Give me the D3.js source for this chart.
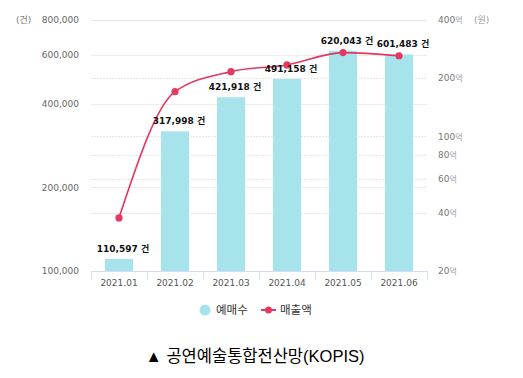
<!DOCTYPE html>
<html><head><meta charset="utf-8">
<script src="https://cdn.jsdelivr.net/npm/d3@7"></script>
<style>
body{margin:0;background:#fff;}
svg{display:block;font-family:"DejaVu Sans","Noto Sans CJK KR",sans-serif;}
</style></head>
<body><svg id="c" width="523" height="378"></svg>
<script>
const categories = ["2021.01","2021.02","2021.03","2021.04","2021.05","2021.06"];
const tickets = [110597, 317998, 421918, 491158, 620043, 601483];
const sales = [37.7, 170, 216, 234, 271, 261]; // 억원
const leftTicks = [100000, 200000, 400000, 600000, 800000];
const rightTicks = [20, 40, 60, 80, 100, 200, 400];
const seriesNames = ["예매수", "매출액"];
const title = "▲ 공연예술통합전산망(KOPIS)";

const barColor = "#a6e3eb", lineColor = "#e8375e";
const svg = d3.select("#c");
const x0 = 91, x1 = 427, yTop = 20, yBot = 271;
const x = d3.scaleBand().domain(categories).range([x0, x1]).paddingInner(0.5).paddingOuter(0.25);
const xb = d3.scaleBand().domain(categories).range([x0, x1]);
const yL = d3.scaleLog().domain([100000, 800000]).range([yBot, yTop]);
const yR = d3.scaleLog().domain([20, 400]).range([yBot, yTop]);

// grid
svg.append("g").selectAll("line").data(leftTicks.slice(1)).join("line")
  .attr("x1", x0).attr("x2", x1).attr("y1", d => Math.round(yL(d)) + 0.5).attr("y2", d => Math.round(yL(d)) + 0.5)
  .attr("stroke", "#ececec");
svg.append("g").selectAll("line").data(rightTicks.slice(1)).join("line")
  .attr("x1", x0).attr("x2", x1).attr("y1", d => Math.round(yR(d)) + 0.5).attr("y2", d => Math.round(yR(d)) + 0.5)
  .attr("stroke", "#e6e6e6").attr("stroke-dasharray", "2,1");

// bars
svg.append("g").selectAll("rect").data(tickets).join("rect")
  .attr("x", (d, i) => x(categories[i])).attr("width", x.bandwidth())
  .attr("y", d => yL(d)).attr("height", d => yBot - yL(d)).attr("fill", barColor);

// x axis
const xa = svg.append("g").attr("transform", `translate(0,${yBot})`)
  .call(d3.axisBottom(xb).tickSize(0).tickPadding(9));
xa.select(".domain").attr("stroke", "#d6dcef");
xa.selectAll("text").attr("fill", "#555").attr("font-size", 9).attr("font-family", "DejaVu Sans");
svg.append("g").selectAll("line").data(d3.range(categories.length + 1)).join("line")
  .attr("x1", i => Math.round(x0 + i * xb.step()) + 0.5).attr("x2", i => Math.round(x0 + i * xb.step()) + 0.5)
  .attr("y1", yBot).attr("y2", yBot + 8).attr("stroke", "#d6dcef");

// left axis
const la = svg.append("g").attr("transform", `translate(${x0 - 12},0)`)
  .call(d3.axisLeft(yL).tickValues(leftTicks).tickSize(0).tickPadding(0).tickFormat(d3.format(",")));
la.select(".domain").remove();
la.selectAll("text").attr("fill", "#666").attr("font-size", 9).attr("font-family", "DejaVu Sans");
svg.append("text").attr("x", 16).attr("y", yTop + 3).attr("font-size", 9).attr("fill", "#777").text("(건)");

// right axis
const ra = svg.append("g").attr("transform", `translate(${x1 + 11},0)`)
  .call(d3.axisRight(yR).tickValues(rightTicks).tickSize(0).tickPadding(0).tickFormat(d => ""));
ra.select(".domain").remove();
ra.selectAll(".tick text").each(function(d) {
  const t = d3.select(this).attr("fill", "#777").attr("font-size", 9);
  t.append("tspan").attr("font-family", "DejaVu Sans").text(d);
  t.append("tspan").attr("font-family", "Noto Sans CJK KR").attr("font-size", 8).attr("fill", "#999").text("억");
});
svg.append("text").attr("x", 474).attr("y", yTop + 3).attr("font-size", 9).attr("fill", "#999").text("(원)");

// line
const line = d3.line().x((d, i) => x(categories[i]) + x.bandwidth() / 2).y(d => yR(d)).curve(d3.curveMonotoneX);
svg.append("path").datum(sales).attr("d", line).attr("fill", "none").attr("stroke", lineColor).attr("stroke-width", 1.6);
svg.append("g").selectAll("circle").data(sales).join("circle")
  .attr("cx", (d, i) => x(categories[i]) + x.bandwidth() / 2).attr("cy", d => yR(d)).attr("r", 3.6).attr("fill", lineColor);

// bar labels
svg.append("g").selectAll("text").data(tickets).join("text")
  .attr("x", (d, i) => x(categories[i]) + x.bandwidth() / 2 + 4).attr("y", d => yL(d) - 7)
  .attr("text-anchor", "middle").attr("font-size", 9).attr("font-weight", "bold").attr("fill", "#111")
  .text(d => d3.format(",")(d) + " 건");

// legend
const lg = svg.append("g").attr("font-size", 11.5).attr("fill", "#333").attr("font-family", "Noto Sans CJK KR");
lg.append("circle").attr("cx", 205).attr("cy", 310).attr("r", 5.5).attr("fill", barColor);
lg.append("text").attr("x", 216).attr("y", 314).attr("fill", "#333").text(seriesNames[0]);
lg.append("line").attr("x1", 261).attr("x2", 276).attr("y1", 310).attr("y2", 310).attr("stroke", lineColor).attr("stroke-width", 2);
lg.append("circle").attr("cx", 268.5).attr("cy", 310).attr("r", 3.5).attr("fill", lineColor);
lg.append("text").attr("x", 280).attr("y", 314).attr("fill", "#333").text(seriesNames[1]);

// title
svg.append("text").attr("x", 255).attr("y", 362).attr("text-anchor", "middle")
  .attr("font-family", "Liberation Sans, Noto Sans CJK KR").attr("font-size", 16.5).attr("fill", "#000").text(title);
</script></body></html>
